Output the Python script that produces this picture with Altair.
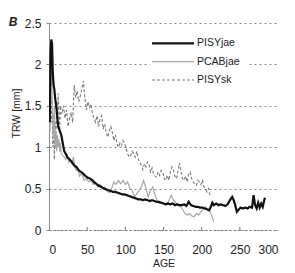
import altair as alt
import pandas as pd

# ---- data ----
pisy_jae_age = [1, 2, 3, 4, 5, 6, 7, 8,
                10, 12, 14, 16, 18, 20, 22, 24, 26, 28, 30,
                33, 36, 39, 42, 45, 48, 51, 54, 57, 60,
                63, 66, 69, 72, 75, 78, 81, 84, 87, 90,
                93, 96, 99, 102, 105, 108, 111, 114, 117, 120,
                123, 126, 129, 132, 135, 138, 141, 144, 147, 150,
                153, 156, 159, 162, 165, 168, 171, 174, 177, 180,
                183, 186, 189, 192, 195, 198, 201, 204, 207, 210,
                212, 214, 216,
                219, 222, 225, 228, 231, 234, 237, 240,
                242, 244, 246, 248,
                251, 254, 257, 260, 263, 266,
                268, 270, 272, 274, 276, 278, 280, 282, 283]
pisy_jae_trw = [1.3, 2.1, 2.3, 2.25, 1.9, 1.75, 1.7, 1.6,
                1.45, 1.25, 1.2, 1.15, 1.05, 0.95, 0.92, 0.88, 0.86, 0.84, 0.82,
                0.78, 0.76, 0.72, 0.70, 0.68, 0.65, 0.63, 0.62, 0.60, 0.57,
                0.55, 0.53, 0.52, 0.50, 0.49, 0.48, 0.47, 0.46, 0.46, 0.45,
                0.44, 0.43, 0.43, 0.42, 0.41, 0.40, 0.39, 0.38, 0.37, 0.37,
                0.36, 0.37, 0.36, 0.35, 0.36, 0.35, 0.34, 0.34, 0.33, 0.32,
                0.31, 0.32, 0.31, 0.32, 0.30, 0.31, 0.30, 0.30, 0.31, 0.29,
                0.34, 0.30, 0.29, 0.28, 0.28, 0.27, 0.27, 0.26, 0.25, 0.24,
                0.28, 0.33, 0.30,
                0.32, 0.30, 0.31, 0.30, 0.29, 0.31, 0.36, 0.40,
                0.36, 0.30, 0.22, 0.24,
                0.27, 0.26, 0.27, 0.26, 0.28, 0.27,
                0.42, 0.30, 0.26, 0.33, 0.27, 0.32, 0.28, 0.36, 0.39]

pcab_jae_age = [1, 2, 3, 4, 5, 6, 7, 8, 9, 10, 11, 12, 13, 14, 15, 16,
                18, 20, 22, 24, 26, 28, 30, 32, 34, 36, 38, 40,
                43, 46, 49, 52, 55, 58, 61, 64, 67, 70, 73, 76, 79, 82,
                85, 88, 91, 94, 97, 100, 103, 106, 109, 112, 115, 118,
                121, 124, 127, 130, 133, 136, 139, 142, 145, 148, 151,
                154, 157, 160, 163, 166, 169, 172, 175, 178, 181, 184,
                187, 190, 193, 196, 199, 202, 205, 208, 211, 213, 215, 216]
pcab_jae_trw = [1.2, 1.8, 2.3, 1.6, 1.3, 1.1, 1.5, 1.0, 1.2, 0.95, 1.15, 1.0, 1.1, 0.95, 1.05, 0.92,
                0.9, 0.88, 0.85, 0.9, 0.82, 0.85, 0.8, 0.88, 0.75, 0.72, 0.74, 0.65,
                0.68, 0.6, 0.62, 0.58, 0.6, 0.55, 0.58, 0.52, 0.55, 0.5, 0.52, 0.47, 0.45, 0.5,
                0.58, 0.55, 0.6, 0.56, 0.6, 0.55, 0.58, 0.5, 0.48, 0.4, 0.44, 0.48,
                0.52, 0.6, 0.5, 0.4, 0.48, 0.52, 0.42, 0.35, 0.32, 0.33, 0.31,
                0.32, 0.35, 0.42, 0.36, 0.33, 0.3, 0.28, 0.25, 0.2, 0.18, 0.2,
                0.17, 0.16, 0.2, 0.18, 0.22, 0.25, 0.28, 0.24, 0.22, 0.18, 0.12, 0.1]

pisy_sk_age = [1, 2, 3, 4, 5, 6, 7, 8, 9, 10, 11, 12, 13, 14, 15,
               17, 19, 21, 23, 25, 27, 29, 31, 33, 35, 37, 39, 41, 43, 45,
               47, 49, 51, 53, 55, 57, 59, 61, 63, 65, 67, 69, 71, 73, 75,
               77, 79, 81, 83, 85, 87, 89, 91, 93, 95, 97, 99, 101, 103, 105,
               107, 109, 111, 113, 115, 117, 119, 121, 123, 125, 127, 129, 131, 133, 135,
               137, 139, 141, 143, 145, 147, 149, 151, 153, 155, 157, 159, 161, 163, 165,
               167, 169, 171, 173, 175, 177, 179, 181, 183, 185, 187, 189, 191, 193, 195,
               197, 199, 201, 203, 205, 207, 209, 211]
pisy_sk_trw = [1.2, 1.5, 1.3, 1.6, 1.0, 1.4, 0.85, 1.3, 1.0, 1.55, 1.3, 1.65, 1.4, 1.2, 1.5,
               1.4, 1.5, 1.35, 1.45, 1.25, 1.35, 1.42, 1.3, 1.75, 1.6, 1.68, 1.55, 1.62, 1.7, 1.8,
               1.6, 1.45, 1.55, 1.48, 1.52, 1.4, 1.35, 1.3, 1.38, 1.25, 1.35, 1.38, 1.22, 1.28, 1.18,
               1.12, 1.2, 1.25, 1.18, 1.08, 1.15, 1.05, 1.0, 1.05, 1.02, 1.08, 1.05, 0.98, 0.92, 0.88,
               0.9, 0.95, 0.92, 0.88, 0.95, 0.85, 0.82, 0.78, 0.73, 0.8, 0.76, 0.82, 0.8, 0.7, 0.75,
               0.68, 0.65, 0.64, 0.7, 0.66, 0.72, 0.7, 0.62, 0.6, 0.66, 0.6, 0.7, 0.76, 0.72, 0.65,
               0.62, 0.72, 0.81, 0.7, 0.62, 0.6, 0.65, 0.58, 0.68, 0.7, 0.62, 0.58, 0.55, 0.54, 0.6,
               0.58, 0.55, 0.6, 0.52, 0.5, 0.46, 0.5, 0.42]

series_names = ["PISYjae", "PCABjae", "PISYsk"]
x_ticks = [0, 50, 100, 150, 200, 250, 300]
y_ticks = [0, 0.5, 1, 1.5, 2, 2.5]

# ---- styles ----
styles = {
    "PISYjae": dict(color="#111111", strokeWidth=2.2, strokeDash=[1, 0]),
    "PCABjae": dict(color="#a8a8a8", strokeWidth=1.2, strokeDash=[1, 0]),
    "PISYsk": dict(color="#7a7a7a", strokeWidth=1.1, strokeDash=[3, 2]),
}
FONT = "Liberation Sans"

W, H = 229, 207

xscale = alt.Scale(domain=[0, 300], nice=False, zero=False)
yscale = alt.Scale(domain=[0, 2.5], nice=False)

xaxis = alt.Axis(values=x_ticks, title="AGE", grid=False, tickSize=0,
                 labelFont=FONT, labelFontSize=12, labelColor="#222",
                 labelPadding=14, domainColor="#777", domainDash=[2, 2],
                 labelExpr="'' + datum.value",
                 titleFont=FONT, titleFontSize=10.5, titleFontWeight="normal",
                 titleColor="#222", titlePadding=3)
yaxis = alt.Axis(values=y_ticks, title="TRW [mm]", grid=True, gridColor="#888",
                 gridDash=[2, 3], gridWidth=1, tickSize=3, tickColor="#888",
                 labelFont=FONT, labelFontSize=12, labelColor="#222", labelPadding=5,
                 labelExpr="'' + datum.value",
                 domainColor="#888",
                 titleFont=FONT, titleFontSize=10.5, titleFontWeight="normal",
                 titleColor="#222", titleX=-28, titleY=90, titleAngle=-90,
                 titleAlign="center", titleBaseline="bottom")

frames = {
    "PISYjae": pd.DataFrame({"age": pisy_jae_age, "trw": pisy_jae_trw}),
    "PCABjae": pd.DataFrame({"age": pcab_jae_age, "trw": pcab_jae_trw}),
    "PISYsk": pd.DataFrame({"age": pisy_sk_age, "trw": pisy_sk_trw}),
}

layers = []

# inward x ticks
tick_df = pd.DataFrame({"age": x_ticks[1:-1]})
layers.append(
    alt.Chart(tick_df).mark_rule(color="#777", strokeWidth=1).encode(
        x=alt.X("age:Q", scale=xscale, axis=xaxis),
        y=alt.value(H - 3), y2=alt.value(H),
    )
)

for name in ["PISYsk", "PCABjae", "PISYjae"]:
    st = styles[name]
    ln = alt.Chart(frames[name]).mark_line(
        color=st["color"], strokeWidth=st["strokeWidth"], strokeDash=st["strokeDash"],
        interpolate="linear", clip=True
    ).encode(
        x=alt.X("age:Q", scale=xscale, axis=xaxis),
        y=alt.Y("trw:Q", scale=yscale, axis=yaxis),
    )
    layers.append(ln)

# ---- legend (manual) ----
legend_bg = alt.Chart(pd.DataFrame({"k": [0]})).mark_rect(color="white").encode(
    x=alt.value(101), x2=alt.value(198), y=alt.value(13), y2=alt.value(66)
)
layers.append(legend_bg)
leg_rows = [20.3, 38.7, 57.0]
for name, yy in zip(series_names, leg_rows):
    st = styles[name]
    d = pd.DataFrame({"s": [name]})
    rule = alt.Chart(d).mark_rule(
        color=st["color"], strokeWidth=st["strokeWidth"], strokeDash=st["strokeDash"]
    ).encode(x=alt.value(103), x2=alt.value(145), y=alt.value(yy))
    txt = alt.Chart(d).mark_text(
        align="left", baseline="middle", font=FONT, fontSize=10.5, color="#222"
    ).encode(x=alt.value(148), y=alt.value(yy), text="s:N")
    layers += [rule, txt]

# panel letter
blab = alt.Chart(pd.DataFrame({"t": ["B"]})).mark_text(
    align="center", baseline="middle", font=FONT, fontSize=12,
    fontStyle="italic", fontWeight="bold", color="#222"
).encode(x=alt.value(-36), y=alt.value(-1), text="t:N")
layers.append(blab)

chart = alt.layer(*layers).properties(
    width=W, height=H,
    autosize=alt.AutoSizeParams(type="none"),
    padding={"left": 49, "top": 23, "right": 295 - 49 - W, "bottom": 273 - 23 - H},
    background="white",
).configure_view(stroke=None)

chart.save("out.html", embed_options={"renderer": "svg", "actions": False})
